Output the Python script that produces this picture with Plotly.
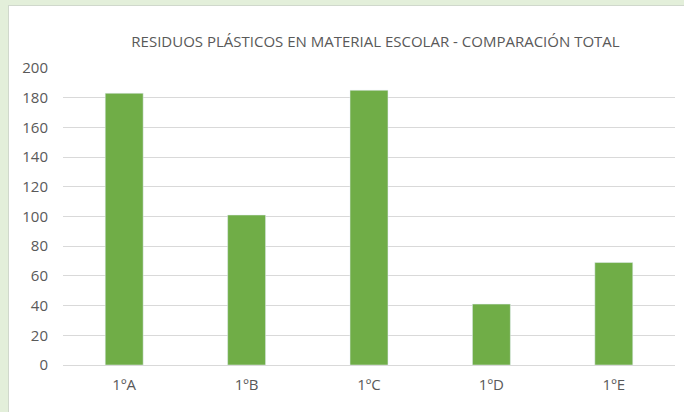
import plotly.graph_objects as go

categories = ["1ºA", "1ºB", "1ºC", "1ºD", "1ºE"]
values = [183, 101, 185, 41, 69]
title_text = "RESIDUOS PLÁSTICOS EN MATERIAL ESCOLAR - COMPARACIÓN TOTAL"

W, H = 684, 412
L, R, T, B = 63, 9, 68, 47
pw, ph = W - L - R, H - T - B

def px(x):
    return (x - L) / pw

def py(y):
    return (H - B - y) / ph

fig = go.Figure(go.Bar(x=categories, y=values, marker_color="#70ad47", width=0.31))

green = "#e3efda"
fig.update_layout(
    width=W, height=H,
    margin=dict(l=L, r=R, t=T, b=B),
    paper_bgcolor="white",
    plot_bgcolor="white",
    showlegend=False,
    title=dict(text=title_text, xref="container", x=375.5 / W, xanchor="center",
               y=1 - 42 / H, yanchor="middle",
               font=dict(family="Open Sans, Calibri, sans-serif", size=15, color="#595959")),
    font=dict(family="Open Sans, sans-serif", size=15, color="#595959"),
    xaxis=dict(showgrid=False, showline=True, linecolor="#d9d9d9", linewidth=1,
               ticks="", ticklabelstandoff=6, tickfont=dict(size=15, color="#595959")),
    yaxis=dict(range=[0, 200], dtick=20, showgrid=True, gridcolor="#d9d9d9", gridwidth=1,
               zeroline=False, ticks="", ticklabelstandoff=14,
               tickfont=dict(size=15, color="#595959")),
    shapes=[
        dict(type="rect", xref="paper", yref="paper", x0=px(0), x1=px(8), y0=py(H), y1=py(0),
             fillcolor=green, line_width=0, layer="above"),
        dict(type="rect", xref="paper", yref="paper", x0=px(0), x1=px(W), y0=py(5), y1=py(0),
             fillcolor=green, line_width=0, layer="above"),
        dict(type="line", xref="paper", yref="paper", x0=px(8.5), x1=px(8.5), y0=py(H), y1=py(5),
             line=dict(color="#d0d8cc", width=1), layer="above"),
        dict(type="line", xref="paper", yref="paper", x0=px(8), x1=px(W), y0=py(5.5), y1=py(5.5),
             line=dict(color="#d0d8cc", width=1), layer="above"),
    ],
)

fig.write_html("out.html", config={"displayModeBar": False},
               post_script="document.body.style.margin='0';")
